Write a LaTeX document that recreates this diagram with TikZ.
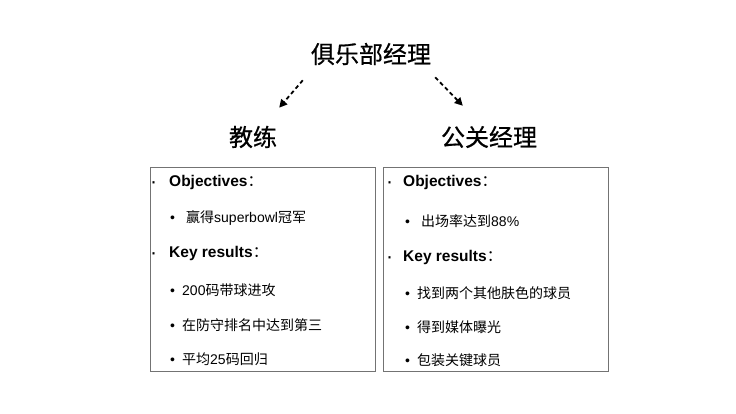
\documentclass[tikz,border=0pt]{standalone}
\usepackage{fontspec}
\setmainfont{Liberation Sans}
\newfontfamily\cjk{Noto Sans CJK SC}
\newfontfamily\cjktitle[FakeBold=0.6]{Noto Sans CJK SC}
\usetikzlibrary{arrows.meta}

\newcommand{\zh}[1]{{\cjk #1}}
\newcommand{\topdot}[1]{\makebox[#1][l]{\raisebox{-2.5pt}{\fontsize{21}{21}\selectfont ·}}}
\newcommand{\subdot}{\makebox[12pt][l]{•}}

\begin{document}
\begin{tikzpicture}[
    x=1pt, y=-1pt,
    title/.style={
        font=\cjktitle\fontsize{24}{28}\selectfont,
        inner sep=2pt
    },
    dasharrow/.style={
        -{Triangle[length=8pt,width=8pt]},
        line width=1.8pt,
        dash pattern=on 4pt off 3pt
    },
    panel/.style={
        draw=black!55,
        line width=1.4pt,
        anchor=north west,
        minimum width=225pt,
        minimum height=204pt,
        inner sep=0pt
    },
    head/.style={
        anchor=west,
        inner sep=0pt,
        font=\fontsize{15.5}{18}\selectfont
    },
    item/.style={
        anchor=west,
        inner sep=0pt,
        font=\fontsize{14}{16}\selectfont
    }
]
    \useasboundingbox (0,0) rectangle (736,414);

    % Titles
    \node[title] (club) at (371,54) {俱乐部经理};
    \node[title] (coach) at (253,137) {教练};
    \node[title] (pr) at (489,137) {公关经理};

    \draw[dasharrow] ([xshift=-6pt,yshift=-13pt]club.south west) -- ([yshift=16pt]coach.north east);
    \draw[dasharrow] ([xshift=2pt,yshift=-10pt]club.south east) -- ([xshift=24pt,yshift=18pt]pr.north west);

    % --- Coach panel ---
    \node[panel] (coachbox) at (150,167) {};

    \node[head] (cobj) at (150,182) {\topdot{19pt}\textbf{Objectives}\zh{：}};
    \node[item] (cobj1) at (170,218) {\subdot\hspace{4pt}\zh{赢得}superbowl\zh{冠军}};
    \node[head] (ckr) at (150,253) {\topdot{19pt}\textbf{Key results}\zh{：}};
    \node[item] (ckr1) at (170,290) {\subdot 200\zh{码带球进攻}};
    \node[item] (ckr2) at (170,325) {\subdot\zh{在防守排名中达到第三}};
    \node[item] (ckr3) at (170,359) {\subdot\zh{平均}25\zh{码回归}};

    % --- PR panel ---
    \node[panel] (prbox) at (383,167) {};

    \node[head] (pobj) at (386,182) {\topdot{17pt}\textbf{Objectives}\zh{：}};
    \node[item] (pobj1) at (405,221) {\subdot\hspace{4pt}\zh{出场率达到}88\%};
    \node[head] (pkr) at (386,257) {\topdot{17pt}\textbf{Key results}\zh{：}};
    \node[item] (pkr1) at (405,293) {\subdot\zh{找到两个其他肤色的球员}};
    \node[item] (pkr2) at (405,327) {\subdot\zh{得到媒体曝光}};
    \node[item] (pkr3) at (405,360) {\subdot\zh{包装关键球员}};

\end{tikzpicture}
\end{document}
